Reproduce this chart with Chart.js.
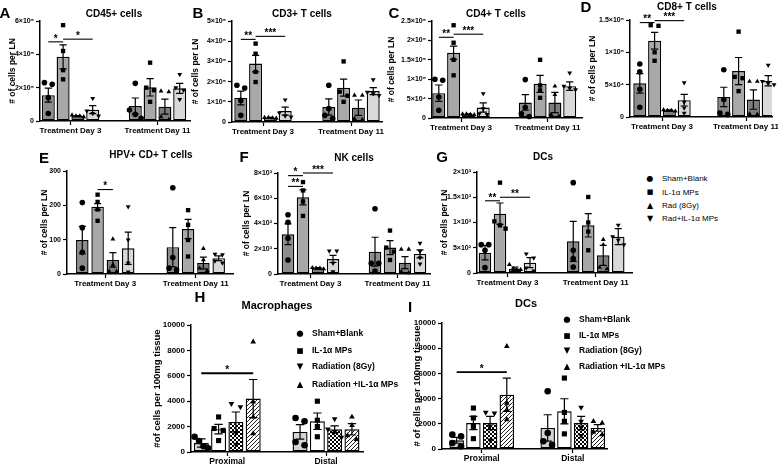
<!DOCTYPE html>
<html>
<head>
<meta charset="utf-8">
<script src="https://cdn.jsdelivr.net/npm/chart.js@4/dist/chart.umd.min.js"></script>
<style>
  body { margin: 0; background: #fff; }
  #fig { position: relative; width: 778px; height: 467px; overflow: hidden; font-family: "Liberation Sans", Arial, sans-serif; }
  #fig canvas { position: absolute; }
  .lbl { position: absolute; transform: translate(-50%, -50%); white-space: nowrap; font-weight: bold; color: #000; }
  .letter { font-size: 15px; }
  .title { font-size: 10px; }
  .leg { position: absolute; white-space: nowrap; color: #000; transform: translateY(-50%); }
  .mk { position: absolute; transform: translate(-50%, -50%); font-family: "DejaVu Sans", sans-serif; color: #000; }
</style>
</head>
<body>
<div id="fig"></div>
<script>
// ===== datos =====
const diasLN = ["Treatment Day 3", "Treatment Day 11"];
const sitios = ["Proximal", "Distal"];
const gruposLN = ["Sham+Blank", "IL-1α MPs", "Rad (8Gy)", "Rad+IL-1α MPs"];
const gruposTej = ["Sham+Blank", "IL-1α MPs", "Radiation (8Gy)", "Radiation +IL-1α MPs"];

// A - CD45+ cells  (filas = categoria, columnas = grupo)
const cd45Media = [[1.55e5, 3.85e5, 0.3e5, 0.68e5], [0.9e5, 2.02e5, 0.86e5, 1.96e5]];
const cd45Sem = [[0.42e5, 0.72e5, 0.03e5, 0.24e5], [0.48e5, 0.52e5, 0.45e5, 0.3e5]];
const cd45Puntos = [
  [[2.2e5, 2.3e5, 1.4e5, 0.45e5], [5.75e5, 4.2e5, 3.05e5, 2.5e5], [0.35e5, 0.3e5, 0.25e5, 0.3e5], [1.36e5, 0.6e5, 0.45e5, 0.3e5]],
  [[2.26e5, 0.66e5, 0.4e5, 0.16e5], [3.5e5, 2.0e5, 1.85e5, 1.15e5], [1.8e5, 1.75e5, 0.25e5, 0.08e5], [2.8e5, 2.0e5, 1.85e5, 1.3e5]]
];
const cd45Ticks = [0, 2e5, 4e5, 6e5];
const cd45TickTxt = ["0", "2×10⁵", "4×10⁵", "6×10⁵"];

// B - CD3+ T cells
const cd3Media = [[1.19e5, 2.89e5, 0.21e5, 0.54e5], [0.74e5, 1.7e5, 0.71e5, 1.53e5]];
const cd3Sem = [[0.34e5, 0.41e5, 0.02e5, 0.2e5], [0.4e5, 0.42e5, 0.38e5, 0.17e5]];
const cd3Puntos = [
  [[1.68e5, 1.82e5, 1.07e5, 0.33e5], [3.88e5, 3.38e5, 2.48e5, 1.98e5], [0.22e5, 0.2e5, 0.18e5, 0.22e5], [1.1e5, 0.45e5, 0.3e5, 0.25e5]],
  [[1.82e5, 0.66e5, 0.33e5, 0.17e5], [3.0e5, 1.5e5, 1.3e5, 1.0e5], [1.32e5, 1.32e5, 0.17e5, 0.12e5], [2.1e5, 1.48e5, 1.4e5, 1.32e5]]
];
const cd3Ticks = [0, 1e5, 2e5, 3e5, 4e5, 5e5];
const cd3TickTxt = ["0", "1×10⁵", "2×10⁵", "3×10⁵", "4×10⁵", "5×10⁵"];

// C - CD4+ T cells
const cd4Media = [[6.4e4, 16.8e4, 0.95e4, 2.7e4], [4.0e4, 8.8e4, 4.0e4, 8.2e4]];
const cd4Sem = [[2.1e4, 1.7e4, 0.1e4, 1.2e4], [2.0e4, 2.2e4, 2.6e4, 1.1e4]];
const cd4Puntos = [
  [[9.7e4, 10e4, 5.4e4, 2.0e4], [23.9e4, 19.4e4, 15e4, 11e4], [1.0e4, 0.9e4, 0.8e4, 1.0e4], [6.3e4, 2.4e4, 1.1e4, 0.9e4]],
  [[9.9e4, 2.7e4, 1.1e4, 0.4e4], [15e4, 8.4e4, 7.1e4, 5.2e4], [8.2e4, 6.0e4, 0.9e4, 0.5e4], [11.6e4, 8.2e4, 7.7e4, 7.3e4]]
];
const cd4Ticks = [0, 5e4, 1e5, 1.5e5, 2e5, 2.5e5];
const cd4TickTxt = ["0", "5×10⁴", "1×10⁵", "1.5×10⁵", "2×10⁵", "2.5×10⁵"];

// D - CD8+ T cells
const cd8Media = [[5.2e4, 11.8e4, 1.0e4, 2.6e4], [3.1e4, 7.1e4, 2.7e4, 5.6e4]];
const cd8Sem = [[1.5e4, 1.3e4, 0.1e4, 0.9e4], [1.5e4, 2.1e4, 1.5e4, 0.8e4]];
const cd8Puntos = [
  [[8.2e4, 7.0e4, 4.3e4, 1.5e4], [14.2e4, 14.1e4, 10e4, 8.7e4], [1.1e4, 1.0e4, 0.9e4, 1.0e4], [5.3e4, 2.3e4, 1.4e4, 0.6e4]],
  [[7.3e4, 2.7e4, 0.6e4, 0.4e4], [13.2e4, 6.2e4, 6.0e4, 4.0e4], [5.5e4, 5.5e4, 0.5e4, 0.4e4], [8.0e4, 5.5e4, 5.2e4, 5.0e4]]
];
const cd8Ticks = [0, 5e4, 1e5, 1.5e5];
const cd8TickTxt = ["0", "5×10⁴", "1×10⁵", "1.5×10⁵"];

// E - HPV+ CD+ T cells
const hpvMedia = [[99, 196, 41, 75], [78, 131, 32, 46]];
const hpvSem = [[40, 9, 21, 47], [57, 28, 17, 7]];
const hpvPuntos = [
  [[208, 135, 63, 17], [231, 210, 188, 155], [102, 27, 8, 8], [196, 99, 32, 6]],
  [[251, 48, 17, 12], [186, 143, 99, 51], [74, 41, 17, 10], [58, 56, 38, 32]]
];
const hpvTicks = [0, 100, 200, 300];
const hpvTickTxt = ["0", "100", "200", "300"];

// F - NK cells
const nkMedia = [[3.15e3, 6.07e3, 0.45e3, 1.19e3], [1.77e3, 2.09e3, 0.9e3, 1.59e3]];
const nkSem = [[0.82e3, 0.6e3, 0.05e3, 0.28e3], [1.14e3, 0.55e3, 0.48e3, 0.32e3]];
const nkPuntos = [
  [[4.69e3, 4.1e3, 2.83e3, 1.11e3], [7.28e3, 6.62e3, 5.75e3, 4.6e3], [0.5e3, 0.45e3, 0.4e3, 0.45e3], [1.83e3, 1.83e3, 0.85e3, 0.19e3]],
  [[5.17e3, 0.85e3, 0.85e3, 0.24e3], [3.44e3, 2.09e3, 1.77e3, 1.11e3], [1.96e3, 1.96e3, 0.19e3, 0.1e3], [2.44e3, 1.8e3, 1.3e3, 0.8e3]]
];
const nkTicks = [0, 2e3, 4e3, 6e3, 8e3];
const nkTickTxt = ["0", "2×10³", "4×10³", "6×10³", "8×10³"];

// G - DCs (LN)
const dcLnMedia = [[403, 1175, 86, 205], [627, 944, 350, 720]];
const dcLnSem = [[145, 211, 33, 99], [396, 231, 198, 160]];
const dcLnPuntos = [
  [[561, 561, 449, 106], [1789, 1023, 944, 878], [165, 86, 66, 66], [380, 300, 100, 40]],
  [[1789, 449, 284, 119], [1505, 1000, 820, 450], [660, 560, 110, 80], [950, 720, 650, 560]]
];
const dcLnTicks = [0, 500, 1000, 1500, 2000];
const dcLnTickTxt = ["0", "5×10²", "1×10³", "1.5×10³", "2×10³"];

// H - Macrophages
const macMedia = [[710, 1800, 2370, 4210], [1580, 2420, 1790, 1790]];
const macSem = [[330, 380, 780, 1500], [570, 650, 260, 450]];
const macPuntos = [
  [[1200, 870, 450, 300], [2760, 1850, 1700, 900], [3800, 3550, 1500, 600], [8680, 3950, 2760, 1450]],
  [[2420, 2680, 790, 530], [4000, 2500, 2000, 1200], [2600, 1800, 1600, 1150], [2760, 2100, 1300, 1000]]
];
// I - DCs (tejido)
const dcTejMedia = [[690, 2060, 2060, 4310], [1670, 2990, 2060, 1670]];
const dcTejSem = [[235, 530, 530, 1320], [1050, 1000, 530, 260]];
const dcTejPuntos = [
  [[1140, 1000, 480, 210], [3250, 2460, 1800, 820], [2900, 2850, 1800, 700], [8150, 3650, 3120, 2330]],
  [[4580, 1270, 610, 340], [5630, 2900, 2200, 1200], [3300, 2200, 1700, 1050], [2200, 2060, 1350, 1140]]
];
const tejTicks = [0, 2000, 4000, 6000, 8000, 10000];
const tejTickTxt = ["0", "2000", "4000", "6000", "8000", "10000"];

// significancia: [grupoDesde, grupoHasta, valorY, texto]
const cd45Sig = [[0, 1, 4.75e5, "*"], [1, 3, 4.91e5, "*"]];
const cd3Sig = [[0, 1, 4.09e5, "**"], [1, 3, 4.24e5, "***"]];
const cd4Sig = [[0, 1, 20.8e4, "**"], [1, 3, 21.6e4, "***"]];
const cd8Sig = [[0, 1, 14.6e4, "**"], [1, 3, 14.9e4, "***"]];
const hpvSig = [[1, 2, 246, "*"]];
const nkSig = [[0, 1, 6.94e3, "**"], [0, 1, 7.79e3, "*"], [1, 3, 8.0e3, "***"]];
const dcLnSig = [[0, 1, 1430, "**"], [1, 3, 1500, "**"]];
const macSig = [[0, 3, 6200, "*"]];
const dcTejSig = [[0, 3, 6100, "*"]];

// ===== estilos =====
const FUENTE = '"Liberation Sans", Arial, sans-serif';
Chart.defaults.font.family = FUENTE;
Chart.defaults.font.weight = "bold";
Chart.defaults.color = "#000";

const grisesLN = ["#8c8c8c", "#a8a8a8", "#7d7d7d", "#d9d9d9"];
const marcasLN = [["circle", 0], ["rect", 0], ["triangle", 0], ["triangle", 180]];
const marcasTej = [["circle", 0], ["rect", 0], ["triangle", 180], ["triangle", 0]];

function patron(dibujar) {
  const c = document.createElement("canvas");
  c.width = 4; c.height = 4;
  const g = c.getContext("2d");
  g.fillStyle = "#fff"; g.fillRect(0, 0, 4, 4);
  g.fillStyle = "#000"; g.strokeStyle = "#222";
  dibujar(g);
  return g.createPattern(c, "repeat");
}
const cuadros = patron(g => { g.fillRect(0, 0, 2, 2); g.fillRect(2, 2, 2, 2); });
const rayas = patron(g => { g.lineWidth = 1; g.beginPath(); g.moveTo(0, 4); g.lineTo(4, 0); g.moveTo(-1, 1); g.lineTo(1, -1); g.moveTo(3, 5); g.lineTo(5, 3); g.stroke(); });
const rellenosTej = ["#d4d4d4", "#ffffff", cuadros, rayas];

// separa horizontalmente los puntos con valores parecidos
function repartir(vals, max, xc, ancho) {
  const idx = vals.map((v, i) => i).sort((a, b) => vals[b] - vals[a]);
  const xs = vals.map(() => xc);
  let i = 0;
  while (i < idx.length) {
    let j = i;
    while (j + 1 < idx.length && (vals[idx[j]] - vals[idx[j + 1]]) / max < 0.05) j++;
    const n = j - i + 1;
    if (n > 1) {
      const paso = Math.min(0.6, 0.9 / (n - 1)) * ancho;
      for (let k = 0; k < n; k++) xs[idx[i + k]] = xc + (k - (n - 1) / 2) * paso;
    }
    i = j + 1;
  }
  return xs;
}

const fig = document.getElementById("fig");

function texto(cls, txt, x, y, size) {
  const d = document.createElement("div");
  d.className = "lbl " + cls;
  d.textContent = txt;
  d.style.left = x + "px"; d.style.top = y + "px";
  if (size) d.style.fontSize = size + "px";
  fig.appendChild(d);
}

function leyenda(nombres, marcas, mx, tx, ys, size, peso) {
  const glifo = { "circle0": "●", "rect0": "■", "triangle0": "▲", "triangle180": "▼" };
  nombres.forEach((n, i) => {
    const m = document.createElement("div");
    m.className = "mk";
    m.textContent = glifo[marcas[i][0] + marcas[i][1]];
    m.style.left = mx + "px"; m.style.top = ys[i] + "px";
    m.style.fontSize = (marcas[i][0] === "rect" ? size - 1 : size) + "px";
    fig.appendChild(m);
    const t = document.createElement("div");
    t.className = "leg";
    t.textContent = n;
    t.style.left = tx + "px"; t.style.top = ys[i] + "px";
    t.style.fontSize = size + "px"; t.style.fontWeight = peso;
    fig.appendChild(t);
  });
}

// === Panel generico ===
function panel(p) {
  const unidad = p.c1 - p.c0;
  const xmin = -(p.c0 - p.L) / unidad, xmax = 1 + (p.R - p.c1) / unidad;
  const catPct = 4 * p.paso / unidad, barPct = p.barW / p.paso;
  const slot = catPct / 4;
  const padTop = 16, padR = 6, xH = 22;
  const ymax = p.ticks[p.ticks.length - 1];

  const cv = document.createElement("canvas");
  cv.width = Math.round(p.R - p.L + p.yW + padR);
  cv.height = Math.round(p.B - p.T + padTop + xH);
  cv.style.left = (p.L - p.yW) + "px";
  cv.style.top = (p.T - padTop) + "px";
  fig.appendChild(cv);

  const datasets = [];
  p.grupos.forEach((g, gi) => {
    datasets.push({
      type: "bar", label: g, order: 1,
      data: p.cats.map((c, ci) => ({ x: ci, y: p.media[ci][gi] })),
      sem: p.cats.map((c, ci) => p.sem[ci][gi]),
      backgroundColor: p.rellenos[gi], borderColor: "#000", borderWidth: p.borde,
      borderSkipped: false, categoryPercentage: catPct, barPercentage: barPct
    });
  });
  p.grupos.forEach((g, gi) => {
    const pts = [];
    p.cats.forEach((c, ci) => {
      const vals = p.puntos[ci][gi];
      const xs = repartir(vals, ymax, ci + (gi - 1.5) * slot, slot * barPct);
      vals.forEach((v, k) => pts.push({ x: xs[k], y: v }));
    });
    const esCuadro = p.marcas[gi][0] === "rect";
    datasets.push({
      type: "scatter", label: g + " pts", order: 0, data: pts, clip: false,
      pointStyle: p.marcas[gi][0], rotation: p.marcas[gi][1],
      pointRadius: esCuadro ? p.radio * 1.1 : p.radio, backgroundColor: "#000", borderColor: "#000", borderWidth: 0
    });
  });

  const barrasError = {
    id: "barrasError",
    afterDatasetDraw(chart, args) {
      const ds = chart.data.datasets[args.index];
      if (!ds.sem) return;
      const ctx = chart.ctx, ys = chart.scales.y;
      ctx.save();
      ctx.strokeStyle = "#000"; ctx.lineWidth = 1.2;
      args.meta.data.forEach((bar, i) => {
        const m = ds.data[i].y, s = ds.sem[i];
        const yt = ys.getPixelForValue(m + s), yb = ys.getPixelForValue(Math.max(m - s, 0));
        const cap = bar.width * 0.28;
        ctx.beginPath();
        ctx.moveTo(bar.x, yb); ctx.lineTo(bar.x, yt);
        ctx.moveTo(bar.x - cap, yt); ctx.lineTo(bar.x + cap, yt);
        ctx.moveTo(bar.x - cap, yb); ctx.lineTo(bar.x + cap, yb);
        ctx.stroke();
      });
      ctx.restore();
    }
  };

  const signif = {
    id: "signif",
    afterDraw(chart) {
      const ctx = chart.ctx, ys = chart.scales.y;
      ctx.save();
      ctx.strokeStyle = "#000"; ctx.fillStyle = "#000";
      ctx.lineWidth = p.lineaSig;
      ctx.font = "bold 10px " + FUENTE;
      ctx.textAlign = "center"; ctx.textBaseline = "bottom";
      p.sig.forEach(([a, b, v, t]) => {
        const x1 = chart.getDatasetMeta(a).data[0].x, x2 = chart.getDatasetMeta(b).data[0].x;
        const y = ys.getPixelForValue(v);
        ctx.beginPath(); ctx.moveTo(x1, y); ctx.lineTo(x2, y); ctx.stroke();
        ctx.fillText(t, (x1 + x2) / 2, y + 2);
      });
      ctx.restore();
    }
  };

  // anula el relleno automatico de los ejes para fijar el area del grafico
  const sinRelleno = s => { s.paddingLeft = 0; s.paddingRight = 0; s.paddingTop = 0; s.paddingBottom = 0; };

  new Chart(cv, {
    type: "bar",
    data: { datasets },
    options: {
      responsive: false, animation: false,
      layout: { padding: { top: padTop, right: padR, left: 0, bottom: 0 } },
      plugins: { legend: { display: false }, tooltip: { enabled: false } },
      scales: {
        x: {
          type: "linear", min: xmin, max: xmax, bounds: "data", offset: false,
          afterBuildTicks: s => { s.ticks = p.cats.map((c, i) => ({ value: i })); },
          afterFit: s => { s.height = xH; sinRelleno(s); },
          ticks: { callback: (v, i) => p.cats[i], autoSkip: false, maxRotation: 0, padding: 1, font: { size: p.fx, weight: "bold" } },
          grid: { offset: false, drawOnChartArea: false, drawTicks: true, tickLength: 4, tickColor: "#000", tickWidth: 1.2 },
          border: { color: "#000", width: 1.5 }
        },
        y: {
          type: "linear", min: 0, max: ymax, bounds: "data",
          afterBuildTicks: s => { s.ticks = p.ticks.map(v => ({ value: v })); },
          afterFit: s => { s.width = p.yW; sinRelleno(s); },
          ticks: { callback: (v, i) => p.tickTxt[i], autoSkip: false, padding: 2, font: { size: p.fy, weight: "bold" } },
          grid: { drawOnChartArea: false, drawTicks: true, tickLength: 4, tickColor: "#000", tickWidth: 1.2 },
          border: { color: "#000", width: 1.5 },
          title: { display: true, text: p.tituloY, padding: 0, font: { size: p.ft, weight: "bold" } }
        }
      }
    },
    plugins: [barrasError, signif]
  });
}

const baseLN = {
  cats: diasLN, grupos: gruposLN, rellenos: grisesLN, marcas: marcasLN,
  tituloY: "# of cells per LN", borde: 1.4, radio: 2.8, lineaSig: 1.1,
  fx: 8, fy: 7, ft: 8.5, paso: 14.8, barW: 13
};
const baseTej = {
  cats: sitios, grupos: gruposTej, rellenos: rellenosTej, marcas: marcasTej,
  borde: 1.4, radio: 3.3, lineaSig: 1.8, fx: 8.5, fy: 8, ft: 9.5
};

panel({ ...baseLN, media: cd45Media, sem: cd45Sem, puntos: cd45Puntos, ticks: cd45Ticks, tickTxt: cd45TickTxt, sig: cd45Sig,
  L: 40, R: 190, T: 21, B: 121, c0: 70.5, c1: 157.5, yW: 32 });
panel({ ...baseLN, media: cd3Media, sem: cd3Sem, puntos: cd3Puntos, ticks: cd3Ticks, tickTxt: cd3TickTxt, sig: cd3Sig,
  L: 232, R: 382, T: 21, B: 122, c0: 263, c1: 351, yW: 41 });
panel({ ...baseLN, media: cd4Media, sem: cd4Sem, puntos: cd4Puntos, ticks: cd4Ticks, tickTxt: cd4TickTxt, sig: cd4Sig,
  L: 432, R: 582, T: 21, B: 118, c0: 461, c1: 547.5, yW: 45 });
panel({ ...baseLN, media: cd8Media, sem: cd8Sem, puntos: cd8Puntos, ticks: cd8Ticks, tickTxt: cd8TickTxt, sig: cd8Sig,
  L: 630, R: 772, T: 20, B: 117, c0: 662, c1: 746, yW: 42 });
panel({ ...baseLN, media: hpvMedia, sem: hpvSem, puntos: hpvPuntos, ticks: hpvTicks, tickTxt: hpvTickTxt, sig: hpvSig,
  L: 67, R: 233, T: 171, B: 274, c0: 105.25, c1: 195.75, yW: 27, paso: 15.3, barW: 12.5 });
panel({ ...baseLN, media: nkMedia, sem: nkSem, puntos: nkPuntos, ticks: nkTicks, tickTxt: nkTickTxt, sig: nkSig,
  L: 278, R: 430, T: 173, B: 274, c0: 310.5, c1: 397.5, yW: 36, paso: 15, barW: 12.5 });
panel({ ...baseLN, media: dcLnMedia, sem: dcLnSem, puntos: dcLnPuntos, ticks: dcLnTicks, tickTxt: dcLnTickTxt, sig: dcLnSig,
  L: 477, R: 632, T: 172, B: 273, c0: 507.5, c1: 595.75, yW: 37, paso: 15, barW: 12.5 });
panel({ ...baseTej, media: macMedia, sem: macSem, puntos: macPuntos, ticks: tejTicks, tickTxt: tejTickTxt, sig: macSig,
  tituloY: "#of cells per 100mg tissue", L: 191, R: 363, T: 325, B: 452, c0: 227.25, c1: 326, yW: 39, paso: 17.3, barW: 15 });
panel({ ...baseTej, media: dcTejMedia, sem: dcTejSem, puntos: dcTejPuntos, ticks: tejTicks, tickTxt: tejTickTxt, sig: dcTejSig,
  tituloY: "# of cells per 100mg tissue", L: 442, R: 607, T: 323, B: 449, c0: 481.75, c1: 572.75, yW: 30, paso: 16.7, barW: 14.5 });

// letras y titulos
texto("letter", "A", 5, 12); texto("title", "CD45+ cells", 114, 13);
texto("letter", "B", 198, 12); texto("title", "CD3+ T cells", 302, 13);
texto("letter", "C", 394, 12); texto("title", "CD4+ T cells", 496, 13);
texto("letter", "D", 586, 6); texto("title", "CD8+ T cells", 687, 6);
texto("letter", "E", 44, 157); texto("title", "HPV+ CD+ T cells", 151, 154);
texto("letter", "F", 244, 156); texto("title", "NK cells", 354, 157);
texto("letter", "G", 442, 156); texto("title", "DCs", 543, 156);
texto("letter", "H", 200, 296); texto("title", "Macrophages", 277, 305, 11);
texto("letter", "I", 410, 306); texto("title", "DCs", 526, 303, 11);

leyenda(gruposLN, marcasLN, 650, 662, [178, 192, 205, 218], 8, "normal");
leyenda(gruposTej, marcasTej, 300, 312, [333, 350, 366, 384], 8.5, "bold");
leyenda(gruposTej, marcasTej, 567, 579, [319, 335, 350, 366], 8.5, "bold");
</script>
</body>
</html>
